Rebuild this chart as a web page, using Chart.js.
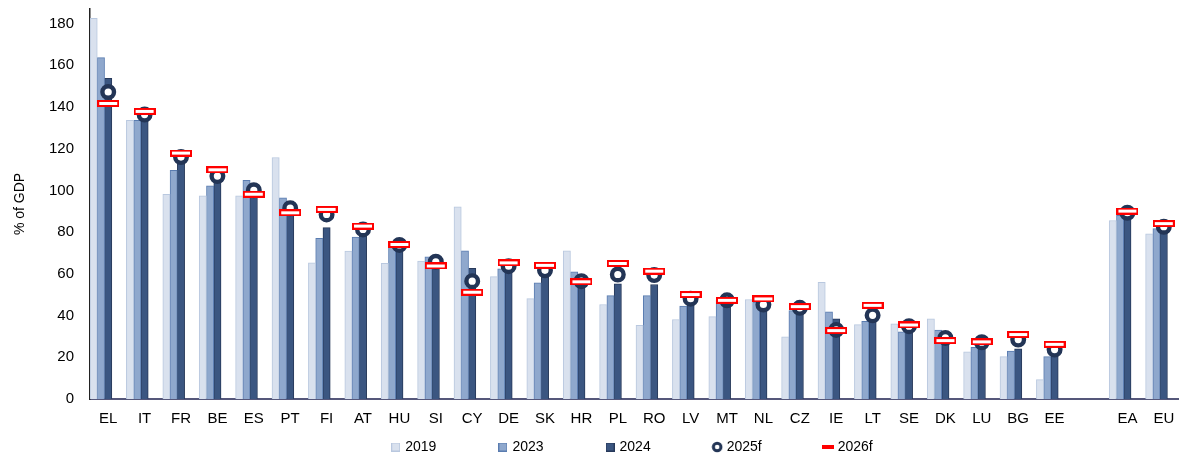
<!DOCTYPE html>
<html>
<head>
<meta charset="utf-8">
<script src="https://cdn.jsdelivr.net/npm/chart.js@4/dist/chart.umd.min.js"></script>
<style>
  html, body { margin: 0; padding: 0; background: #fff; overflow: hidden; }
  #wrap { position: relative; width: 1182px; height: 459px; }
</style>
</head>
<body>
<div id="wrap"><canvas id="debtChart"></canvas></div>
<script>
// ===== Data =====
const countries = ['EL', 'IT', 'FR', 'BE', 'ES', 'PT', 'FI', 'AT', 'HU', 'SI', 'CY', 'DE', 'SK', 'HR', 'PL',
  'RO', 'LV', 'MT', 'NL', 'CZ', 'IE', 'LT', 'SE', 'DK', 'LU', 'BG', 'EE', '', 'EA', 'EU'];

const debt2019 = [182.5, 133.6, 98.1, 97.4, 97.4, 115.8, 65.3, 70.9, 65.0, 66.1, 92.2, 58.7, 48.1, 71.0, 45.3,
  35.3, 38.1, 39.5, 47.7, 29.8, 56.0, 35.7, 36.1, 38.4, 22.6, 20.3, 9.3, null, 85.6, 79.2];
const debt2023 = [163.7, 133.6, 109.6, 102.2, 104.9, 96.5, 77.0, 77.6, 73.0, 68.2, 71.0, 62.4, 55.7, 61.0, 49.6,
  49.6, 44.6, 47.4, 46.5, 42.4, 41.8, 37.3, 32.2, 33.1, 24.8, 23.0, 20.3, null, 88.1, 81.7];
const debt2024 = [153.7, 135.3, 113.2, 104.7, 101.8, 94.9, 82.2, 79.9, 73.5, 67.0, 62.7, 62.5, 59.3, 57.6, 55.2,
  54.9, 46.8, 46.2, 43.7, 43.3, 38.4, 38.2, 33.5, 30.5, 26.3, 24.0, 23.5, null, 88.3, 81.5];
const debt2025f = [147.2, 136.4, 116.0, 106.9, 100.1, 91.5, 88.5, 81.3, 73.9, 65.8, 56.5, 63.7, 61.7, 56.5, 59.7,
  59.4, 48.1, 47.3, 45.3, 43.7, 33.1, 40.1, 34.9, 29.3, 27.2, 28.5, 23.7, null, 89.3, 82.6];
const debt2026f = [141.7, 137.9, 117.9, 109.9, 98.2, 89.3, 90.9, 82.9, 74.1, 63.8, 51.2, 65.3, 64.1, 56.2, 65.0,
  61.3, 50.1, 47.3, 48.0, 44.3, 32.8, 44.9, 35.5, 28.0, 27.4, 30.9, 26.2, null, 90.1, 84.1];

const seriesNames = ['2019', '2023', '2024', '2025f', '2026f'];
const yTicks = [0, 20, 40, 60, 80, 100, 120, 140, 160, 180];

// ===== Colours =====
const c2019 = { fill: '#d9e1ee', line: '#b9c8df' };
const c2023 = { fill: '#8fa8cd', line: '#5a7cb0' };
const c2024 = { fill: '#3b5681', line: '#27395a' };
const navy = '#233556';
const red = '#ff0000';

// ===== Marker pictures =====
function makeCanvas(w, h, draw) {
  const cv = document.createElement('canvas');
  cv.width = w;
  cv.height = h;
  draw(cv.getContext('2d'));
  return cv;
}

function squareIcon(col) {
  return makeCanvas(9, 9, ctx => {
    ctx.fillStyle = col.line;
    ctx.fillRect(0, 0, 9, 9);
    ctx.fillStyle = col.fill;
    ctx.fillRect(1, 1, 7, 7);
  });
}

// red outlined dash for 2026f
const dashMarker = makeCanvas(22, 7, ctx => {
  ctx.fillStyle = red;
  ctx.fillRect(0, 0, 22, 7);
  ctx.fillStyle = '#fff';
  ctx.fillRect(2, 2, 18, 3);
});
const dashLegend = makeCanvas(12, 4, ctx => {
  ctx.fillStyle = red;
  ctx.fillRect(0, 0, 12, 4);
});
const ringLegend = makeCanvas(12, 12, ctx => {
  ctx.beginPath();
  ctx.arc(6, 6, 3.8, 0, Math.PI * 2);
  ctx.fillStyle = '#fff';
  ctx.fill();
  ctx.lineWidth = 3;
  ctx.strokeStyle = navy;
  ctx.stroke();
});

// ===== Legend placement (wide spacing, short row) =====
const legendPad = 64;
const legendRowY = 447;
const legendShift = {
  id: 'legendShift',
  afterLayout(chart) {
    const lg = chart.legend;
    if (!lg) return;
    lg.top = legendRowY - 7 - legendPad;
    lg.left -= 3;
    lg.right -= 3;
  }
};

Chart.defaults.font.family = "'Liberation Sans', Arial, sans-serif";
Chart.defaults.font.size = 15;
Chart.defaults.color = '#000';

const barBase = {
  type: 'bar',
  borderWidth: 1,
  borderSkipped: 'bottom',
  order: 2
};

new Chart(document.getElementById('debtChart'), {
  data: {
    labels: countries,
    datasets: [
      { ...barBase, label: seriesNames[0], data: debt2019, backgroundColor: c2019.fill, borderColor: c2019.line },
      { ...barBase, label: seriesNames[1], data: debt2023, backgroundColor: c2023.fill, borderColor: c2023.line },
      { ...barBase, label: seriesNames[2], data: debt2024, backgroundColor: c2024.fill, borderColor: c2024.line },
      {
        type: 'line', label: seriesNames[3], data: debt2025f, showLine: false, order: 1,
        pointStyle: 'circle', pointRadius: 5.8, pointHoverRadius: 5.8, pointBorderWidth: 4.4,
        pointBackgroundColor: '#fff', pointBorderColor: navy
      },
      {
        type: 'line', label: seriesNames[4], data: debt2026f, showLine: false, order: 0,
        pointStyle: dashMarker, pointRadius: 8, pointHoverRadius: 8
      },
      // two empty slots so the 2024 bar sits on the category centre
      { type: 'bar', label: 'pad1', data: [], order: 3 },
      { type: 'bar', label: 'pad2', data: [], order: 3 }
    ]
  },
  options: {
    responsive: true,
    maintainAspectRatio: false,
    animation: false,
    events: [],
    layout: { autoPadding: false, padding: { top: 9, right: 0, bottom: 0, left: 0 } },
    datasets: { bar: { categoryPercentage: 1, barPercentage: 1 } },
    scales: {
      x: {
        grid: { display: false, drawTicks: false },
        border: { display: true, color: '#55577a', width: 2 },
        ticks: { padding: 11, maxRotation: 0, autoSkip: false, font: { size: 15 } },
        afterFit: s => {
          s.height = 28;
          s.paddingLeft = 0;
          s.paddingRight = 0;
        }
      },
      y: {
        min: 0,
        max: 187,
        grid: { display: false, drawTicks: false },
        border: { display: true, color: '#222', width: 1.5 },
        afterBuildTicks: s => { s.ticks = yTicks.map(v => ({ value: v })); },
        ticks: { padding: 16, font: { size: 15 } },
        title: { display: true, text: '% of GDP', font: { size: 14 }, padding: { top: 12, bottom: 0 } },
        afterFit: s => {
          s.width = 90;
          s.paddingTop = 0;
          s.paddingBottom = 0;
        }
      }
    },
    plugins: {
      tooltip: { enabled: false },
      legend: {
        position: 'bottom',
        fullSize: false,
        maxHeight: 32,
        labels: {
          usePointStyle: true,
          boxWidth: 5,
          boxHeight: 5,
          padding: legendPad,
          font: { size: 14 },
          generateLabels: () => [
            { text: seriesNames[0], pointStyle: squareIcon(c2019), lineWidth: 0, datasetIndex: 0 },
            { text: seriesNames[1], pointStyle: squareIcon(c2023), lineWidth: 0, datasetIndex: 1 },
            { text: seriesNames[2], pointStyle: squareIcon(c2024), lineWidth: 0, datasetIndex: 2 },
            { text: seriesNames[3], pointStyle: ringLegend, lineWidth: 0, datasetIndex: 3 },
            { text: seriesNames[4], pointStyle: dashLegend, lineWidth: 0, datasetIndex: 4 }
          ]
        }
      }
    }
  },
  plugins: [legendShift]
});
</script>
</body>
</html>
